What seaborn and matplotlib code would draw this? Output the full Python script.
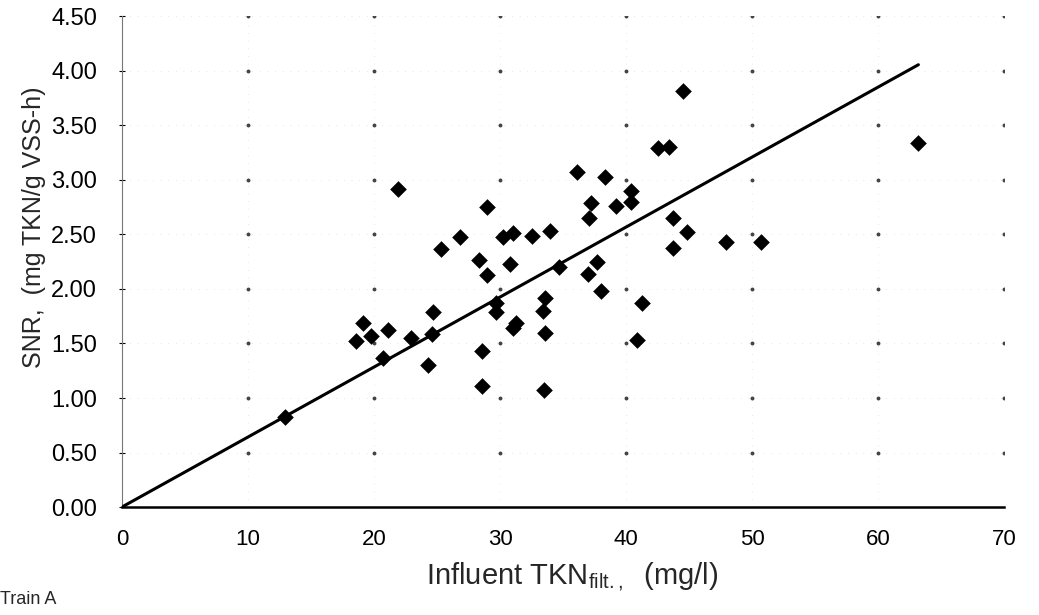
import numpy as np
import matplotlib
matplotlib.use("Agg")
import matplotlib.pyplot as plt
import seaborn as sns

# Influent filtered TKN (mg/l) and specific nitrification rate (mg TKN/g VSS-h)
tkn_filt = [12.9, 18.6, 19.1, 19.8, 20.7, 21.1, 21.9, 22.9, 24.3, 24.6,
            24.7, 25.3, 26.8, 28.3, 28.6, 28.6, 29.0, 29.0, 29.7, 29.7,
            30.2, 30.8, 31.0, 31.0, 31.3, 32.5, 33.5, 33.4, 33.6, 33.6,
            34.0, 34.7, 36.1, 37.1, 37.0, 37.2, 37.7, 38.0, 38.3, 39.2,
            40.4, 40.4, 40.9, 41.3, 42.5, 43.4, 43.7, 43.7, 44.5, 44.8,
            47.9, 50.7, 63.2]
snr = [0.83, 1.52, 1.69, 1.57, 1.37, 1.62, 2.92, 1.55, 1.30, 1.59,
       1.79, 2.37, 2.48, 2.27, 1.43, 1.11, 2.75, 2.13, 1.87, 1.79,
       2.48, 2.23, 1.64, 2.51, 1.69, 2.49, 1.07, 1.80, 1.92, 1.60,
       2.53, 2.20, 3.07, 2.65, 2.14, 2.79, 2.25, 1.98, 3.03, 2.76,
       2.90, 2.80, 1.53, 1.87, 3.29, 3.30, 2.65, 2.38, 3.82, 2.52,
       2.43, 2.43, 3.34]

# Linear trend through the origin
trend_slope = 0.0642

x_ticks = [0, 10, 20, 30, 40, 50, 60, 70]
y_ticks = [0.0, 0.5, 1.0, 1.5, 2.0, 2.5, 3.0, 3.5, 4.0, 4.5]
y_tick_labels = ["0.00", "0.50", "1.00", "1.50", "2.00",
                 "2.50", "3.00", "3.50", "4.00", "4.50"]

sns.set_style("white")
plt.rcParams["font.family"] = ["Liberation Sans", "DejaVu Sans"]
plt.rcParams["mathtext.fontset"] = "custom"
plt.rcParams["mathtext.rm"] = "Liberation Sans"
plt.rcParams["mathtext.it"] = "Liberation Sans"

fig = plt.figure(figsize=(10.39, 6.15), dpi=100)
ax = fig.add_axes([0.1174, 0.1756, 0.849, 0.7976])

# sparse dotted grid with small dots where grid lines cross
for xv in x_ticks[1:]:
    ax.axvline(xv, color="#d0d0d0", lw=0.5, ls=(0, (1, 10)), zorder=0)
for yv in y_ticks[1:]:
    ax.axhline(yv, color="#d0d0d0", lw=0.5, ls=(0, (1, 10)), zorder=0)
gx, gy = np.meshgrid(x_ticks[1:], y_ticks[1:])
ax.plot(gx.ravel(), gy.ravel(), ls="none", marker="o", ms=1.8,
        color="#444444", zorder=1)

sns.scatterplot(x=tkn_filt, y=snr, marker="D", color="black", s=72,
                linewidth=0, ax=ax, zorder=3)

trend_x = np.array([0.0, max(tkn_filt)])
sns.lineplot(x=trend_x, y=trend_slope * trend_x, color="black", lw=2.2,
             ax=ax, zorder=4)

ax.set_xlim(0, 70)
ax.set_ylim(0, 4.5)
ax.set_xticks(x_ticks)
ax.set_yticks(y_ticks)
ax.set_yticklabels(y_tick_labels)

for side in ("top", "right"):
    ax.spines[side].set_visible(False)
ax.spines["left"].set_color("#777777")
ax.spines["left"].set_linewidth(0.8)
ax.spines["bottom"].set_color("black")
ax.spines["bottom"].set_linewidth(1.8)

ax.tick_params(axis="x", length=0, pad=16, labelsize=16, colors="black")
ax.tick_params(axis="y", length=4, width=0.8, direction="inout", pad=16,
               labelsize=17, colors="black", left=True)

ax.set_xlabel(r"Influent TKN$_{\mathrm{filt.,}}$  (mg/l)", fontsize=21)
ax.xaxis.set_label_coords(0.51, -0.108)
ax.set_ylabel("SNR,  (mg TKN/g VSS-h)", fontsize=18)
ax.yaxis.set_label_coords(-0.086, 0.57)

fig.text(0.0, 0.012, "Train A", fontsize=13, ha="left", va="bottom")

fig.savefig("out.png", dpi=100, facecolor="white")
